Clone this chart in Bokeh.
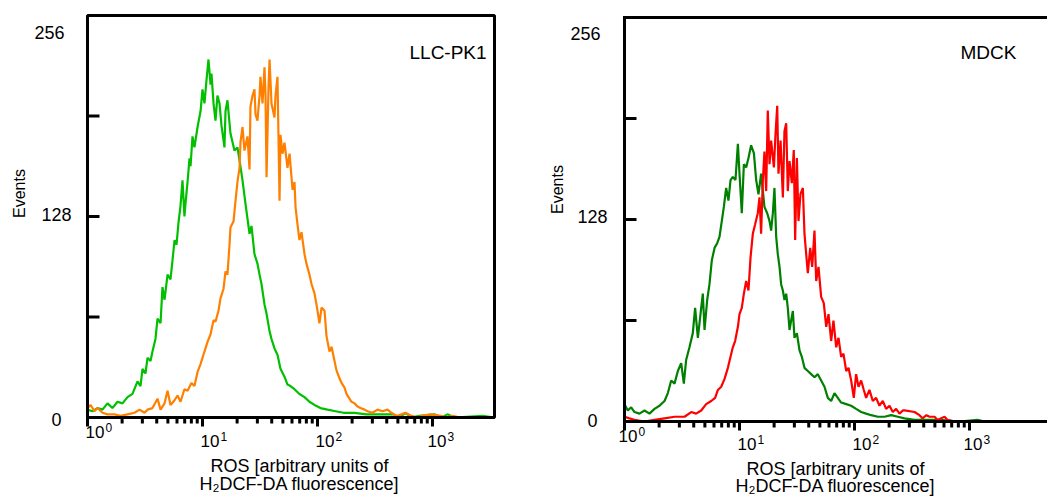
import math
from bokeh.plotting import figure
from bokeh.models import Range1d, Label
from bokeh.layouts import row
from bokeh.embed import file_html
from bokeh.resources import INLINE

# ---------------- data (x as log10 of ROS fluorescence, y as events) ----------------
llc_ctrl_log = [0.000, 0.043, 0.087, 0.130, 0.174, 0.217, 0.261, 0.304, 0.348, 0.391,
                0.435, 0.461, 0.478, 0.504, 0.522, 0.548, 0.565, 0.591, 0.609, 0.635,
                0.652, 0.670, 0.696, 0.722, 0.739, 0.757, 0.774, 0.791, 0.809, 0.826,
                0.843, 0.852, 0.870, 0.887, 0.896, 0.913, 0.930, 0.957, 0.983, 1.000,
                1.017, 1.035, 1.052, 1.070, 1.078, 1.096, 1.113, 1.130, 1.148, 1.165,
                1.191, 1.200, 1.217, 1.243, 1.278, 1.304, 1.330, 1.348, 1.374, 1.409,
                1.426, 1.452, 1.478, 1.496, 1.513, 1.539, 1.557, 1.583, 1.600, 1.626,
                1.652, 1.678, 1.713, 1.739, 1.765, 1.800, 1.843, 1.887, 1.930, 1.974,
                2.026, 2.087, 2.157, 2.226, 2.322, 2.426, 2.539, 2.661, 2.713, 2.765,
                2.817, 2.887, 3.017, 3.078, 3.130, 3.191, 3.435, 3.539]
llc_ctrl_events = [5, 4, 6, 5, 9, 6, 10, 9, 13, 15,
                   23, 20, 31, 28, 38, 36, 42, 50, 63, 60,
                   83, 75, 91, 88, 100, 113, 110, 124, 135, 151,
                   128, 136, 150, 165, 160, 179, 172, 185, 195, 209,
                   200, 215, 228, 212, 219, 200, 189, 205, 200, 186,
                   172, 195, 202, 181, 170, 172, 160, 151, 136, 117,
                   122, 104, 98, 91, 85, 72, 66, 55, 50, 44,
                   40, 31, 26, 21, 20, 18, 15, 13, 10, 8,
                   6, 5, 4, 3, 3, 2, 2, 2, 0, 3,
                   0, 1, 2, 0, 2, 0, 1, 0]

llc_ros_log = [0.000, 0.026, 0.061, 0.087, 0.130, 0.174, 0.235, 0.287, 0.348, 0.409,
               0.452, 0.496, 0.522, 0.565, 0.609, 0.635, 0.670, 0.696, 0.722, 0.757,
               0.783, 0.809, 0.843, 0.870, 0.904, 0.930, 0.957, 0.983, 1.017, 1.043,
               1.070, 1.096, 1.113, 1.139, 1.157, 1.183, 1.200, 1.217, 1.235, 1.243,
               1.270, 1.287, 1.304, 1.322, 1.330, 1.348, 1.365, 1.391, 1.409, 1.417,
               1.435, 1.452, 1.461, 1.478, 1.496, 1.504, 1.522, 1.539, 1.548, 1.557,
               1.574, 1.583, 1.600, 1.626, 1.635, 1.652, 1.670, 1.678, 1.696, 1.713,
               1.739, 1.757, 1.783, 1.800, 1.809, 1.826, 1.843, 1.861, 1.887, 1.904,
               1.930, 1.948, 1.974, 1.991, 2.017, 2.035, 2.061, 2.078, 2.104, 2.122,
               2.148, 2.165, 2.191, 2.209, 2.235, 2.252, 2.278, 2.296, 2.322, 2.348,
               2.374, 2.409, 2.435, 2.478, 2.522, 2.565, 2.609, 2.643, 2.687, 2.730,
               2.765, 2.817, 2.870, 2.904, 2.983, 3.070, 3.122, 3.174, 3.243, 3.539]
llc_ros_events = [6, 8, 4, 6, 3, 2, 2, 1, 2, 3,
                  5, 3, 5, 6, 12, 5, 9, 17, 8, 11,
                  14, 10, 18, 17, 22, 20, 29, 34, 42, 48,
                  53, 62, 61, 68, 76, 82, 93, 91, 110, 121,
                  125, 138, 150, 159, 175, 185, 170, 179, 158, 198,
                  205, 209, 193, 189, 205, 217, 200, 223, 205, 153,
                  210, 228, 200, 191, 205, 217, 138, 180, 168, 175,
                  159, 168, 145, 150, 134, 123, 113, 118, 104, 98,
                  91, 85, 79, 72, 60, 70, 68, 52, 42, 45,
                  36, 30, 25, 22, 19, 15, 12, 10, 9, 7,
                  6, 5, 4, 3, 5, 4, 5, 3, 1, 2,
                  3, 1, 0, 1, 2, 1, 0, 1, 0, 0]

mdck_ctrl_log = [0.000, 0.029, 0.058, 0.087, 0.130, 0.174, 0.217, 0.261, 0.304, 0.348,
                 0.377, 0.406, 0.435, 0.464, 0.493, 0.516, 0.536, 0.565, 0.594, 0.614,
                 0.638, 0.661, 0.681, 0.696, 0.719, 0.739, 0.759, 0.783, 0.806, 0.826,
                 0.846, 0.864, 0.884, 0.904, 0.922, 0.942, 0.965, 0.986, 1.000, 1.020,
                 1.038, 1.058, 1.078, 1.101, 1.125, 1.145, 1.165, 1.188, 1.217, 1.241,
                 1.261, 1.275, 1.290, 1.304, 1.319, 1.333, 1.348, 1.362, 1.377, 1.391,
                 1.406, 1.420, 1.435, 1.449, 1.464, 1.478, 1.499, 1.522, 1.542, 1.565,
                 1.594, 1.623, 1.652, 1.681, 1.710, 1.739, 1.768, 1.797, 1.826, 1.855,
                 1.884, 1.928, 1.971, 2.014, 2.058, 2.101, 2.145, 2.203, 2.261, 2.319,
                 2.377, 2.435, 2.522, 2.739, 2.913, 3.070, 3.130, 3.609]
mdck_ctrl_events = [11, 7, 9, 6, 5, 7, 5, 8, 10, 13,
                    18, 26, 24, 32, 37, 24, 39, 47, 56, 72,
                    53, 68, 81, 58, 77, 87, 102, 110, 113, 117,
                    127, 136, 148, 140, 153, 155, 153, 176, 157, 132,
                    163, 161, 167, 175, 170, 153, 144, 157, 136, 132,
                    127, 121, 132, 148, 117, 106, 98, 87, 83, 77,
                    81, 72, 58, 64, 70, 53, 56, 45, 41, 34,
                    32, 30, 28, 30, 26, 22, 15, 13, 18, 15,
                    12, 11, 10, 8, 6, 5, 4, 3, 3, 4,
                    3, 2, 1, 1, 0, 1, 0, 0]

mdck_ros_log = [0.000, 0.043, 0.087, 0.174, 0.261, 0.348, 0.435, 0.522, 0.580, 0.623,
                0.667, 0.710, 0.754, 0.788, 0.812, 0.841, 0.870, 0.899, 0.922, 0.942,
                0.962, 0.986, 1.000, 1.020, 1.038, 1.058, 1.078, 1.096, 1.116, 1.136,
                1.159, 1.174, 1.188, 1.203, 1.217, 1.232, 1.246, 1.261, 1.275, 1.299,
                1.313, 1.328, 1.339, 1.357, 1.377, 1.391, 1.406, 1.420, 1.435, 1.455,
                1.472, 1.484, 1.499, 1.513, 1.530, 1.551, 1.565, 1.580, 1.594, 1.615,
                1.632, 1.652, 1.667, 1.687, 1.710, 1.733, 1.754, 1.774, 1.797, 1.817,
                1.841, 1.861, 1.884, 1.904, 1.928, 1.948, 1.971, 1.994, 2.014, 2.035,
                2.058, 2.081, 2.101, 2.130, 2.159, 2.188, 2.217, 2.246, 2.275, 2.304,
                2.333, 2.362, 2.391, 2.420, 2.435, 2.522, 2.565, 2.591, 2.626, 2.652,
                2.696, 2.722, 2.783, 2.809, 2.870, 3.609]
mdck_ros_events = [3, 2, 1, 0, 1, 2, 3, 3, 6, 5,
                   7, 11, 13, 15, 20, 22, 27, 34, 41, 47,
                   51, 60, 68, 72, 81, 89, 83, 104, 119, 125,
                   132, 142, 119, 153, 171, 146, 197, 163, 178, 161,
                   182, 200, 157, 178, 142, 184, 189, 146, 165, 151,
                   172, 115, 167, 127, 144, 148, 119, 106, 94, 110,
                   98, 121, 89, 98, 79, 75, 60, 68, 51, 64,
                   47, 53, 41, 43, 32, 34, 26, 15, 30, 22,
                   26, 20, 15, 20, 13, 15, 10, 13, 8, 10,
                   6, 8, 5, 7, 7, 6, 4, 2, 4, 3,
                   3, 1, 3, 1, 0, 0]

y_ticks = [0, 64, 128, 192, 256]
y_label_values = [0, 128, 256]
y_label_texts = ["0", "128", "256"]
x_major = [1, 10, 100, 1000]
x_exponents = ["0", "1", "2", "3"]
x_minor = [2, 3, 4, 5, 6, 7, 8, 9, 20, 30, 40, 50, 60, 70, 80, 90,
           200, 300, 400, 500, 600, 700, 800, 900]
panel_names = ["LLC-PK1", "MDCK"]
y_title = "Events"
x_title_1 = "ROS [arbitrary units of"
x_title_2 = "H\u2082DCF-DA fluorescence]"

# ---------------- styling / layout ----------------
FONT = "Liberation Sans"
H = 498
DEC = 115.0  # pixels per decade
Y_MAX = 256.0
BASELINE_FIX = 0.4  # em; Bokeh places the alphabetic baseline this much lower


class Panel:
    """A figure whose frame is the whole canvas; the plot box is drawn inside it."""

    def __init__(self, page_x, width, frame_left, frame_top, frame_bottom):
        self.page_x = page_x
        self.fl = frame_left
        self.fb = frame_bottom
        self.fh = frame_bottom - frame_top
        x0 = 10 ** ((page_x - frame_left) / DEC)
        x1 = 10 ** ((page_x + width - frame_left) / DEC)
        y0 = (frame_bottom - H) * Y_MAX / self.fh
        y1 = frame_bottom * Y_MAX / self.fh
        p = figure(width=width, height=H, x_axis_type="log",
                   x_range=Range1d(x0, x1), y_range=Range1d(y0, y1),
                   x_axis_location=None, y_axis_location=None,
                   output_backend="svg", toolbar_location=None, min_border=0)
        p.min_border_left = 0
        p.min_border_right = 0
        p.min_border_top = 0
        p.min_border_bottom = 0
        p.outline_line_color = None
        p.grid.visible = False
        p.background_fill_color = "white"
        p.border_fill_color = "white"
        self.p = p

    # pixel helpers (page pixels -> data units), used for placing decorations only
    def dx(self, px):
        return 10 ** ((px - self.fl) / DEC)

    def ypx(self, pixels):
        return pixels * Y_MAX / self.fh

    def dy(self, py):
        return (self.fb - py) * Y_MAX / self.fh

    def text(self, px, py, txt, fs, align="left", angle=0.0):
        if angle == 0.0:
            py -= BASELINE_FIX * fs
        else:
            px -= BASELINE_FIX * fs
        self.p.add_layout(Label(x=self.dx(px), y=self.dy(py), text=txt,
                                text_font=FONT, text_font_size="%gpx" % fs,
                                text_align=align, text_baseline="alphabetic",
                                angle=angle, text_color="black"))

    def curve(self, logs, events, color):
        xs = [10 ** v for v in logs]
        self.p.line(xs, events, line_color=color, line_width=2.2)

    def axes(self, x_end, closed):
        p = self.p
        if closed:
            p.quad(left=[1], right=[x_end], bottom=[0], top=[Y_MAX],
                   fill_color=None, line_color="black", line_width=3)
        else:
            p.line([x_end, 1, 1, x_end], [Y_MAX, Y_MAX, 0, 0],
                   line_color="black", line_width=3, line_join="miter")
        inner = [v for v in y_ticks if 0 < v < Y_MAX]
        tick_in = self.dx(self.fl + 12)
        p.segment(x0=[1] * len(inner), y0=inner, x1=[tick_in] * len(inner), y1=inner,
                  line_color="black", line_width=3)
        p.segment(x0=x_major, y0=[0] * len(x_major), x1=x_major,
                  y1=[-self.ypx(9)] * len(x_major), line_color="black", line_width=3)
        p.segment(x0=x_minor, y0=[0] * len(x_minor), x1=x_minor,
                  y1=[-self.ypx(6)] * len(x_minor), line_color="black", line_width=3)

    def decorate(self, lay):
        for t, rx, by in zip(y_label_texts, lay["ylab_right"], lay["ylab_base"]):
            self.text(rx, by, t, 18, align="right")
        base_fs = 17
        for e, lx, by in zip(x_exponents, lay["xlab_left"], lay["xlab_base"]):
            self.text(lx, by, "10", base_fs)
            self.text(lx + 1.112 * base_fs + 1, by - 6, e, 12)
        cx = lay["title_cx"]
        self.text(cx, lay["title_base"][0], x_title_1, 18, align="center")
        self.text(cx, lay["title_base"][1], x_title_2, 18, align="center")
        self.text(lay["events_x"], lay["events_y"], y_title, 16, align="center",
                  angle=math.pi / 2)
        self.text(lay["name_x"], 60, lay["name"], 19)


left_layout = dict(ylab_right=[61, 71, 64], ylab_base=[426, 221, 39],
                   xlab_left=[85, 200, 315, 427], xlab_base=[438, 447, 447, 447],
                   title_cx=299, title_base=[473, 491], events_x=25, events_y=193,
                   name_x=409, name=panel_names[0])
right_layout = dict(ylab_right=[597, 607, 600], ylab_base=[427, 223, 40],
                    xlab_left=[618, 737, 852, 963], xlab_base=[442, 450, 450, 450],
                    title_cx=835, title_base=[476, 493], events_x=563, events_y=189,
                    name_x=960, name=panel_names[1])

left = Panel(page_x=0, width=532, frame_left=87, frame_top=15, frame_bottom=417)
left.curve(llc_ctrl_log, llc_ctrl_events, "#00C000")
left.curve(llc_ros_log, llc_ros_events, "#FF8000")
left.axes(left.dx(494), closed=True)
left.decorate(left_layout)

right = Panel(page_x=532, width=515, frame_left=624, frame_top=17, frame_bottom=421)
right.curve(mdck_ctrl_log, mdck_ctrl_events, "#008000")
right.curve(mdck_ros_log, mdck_ros_events, "#FF0000")
right.axes(right.dx(1100), closed=False)
right.decorate(right_layout)

layout = row(left.p, right.p)
open("out.html", "w").write(file_html(layout, INLINE))
